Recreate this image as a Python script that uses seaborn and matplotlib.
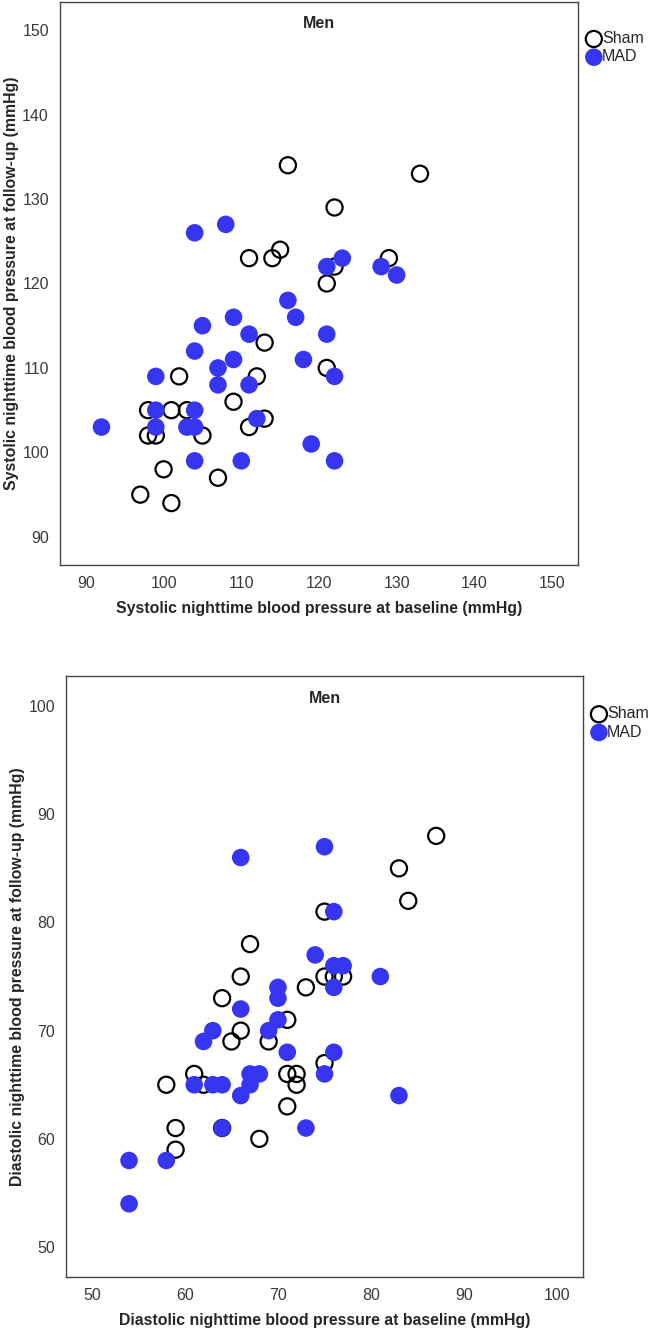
import matplotlib
matplotlib.use("Agg")
import matplotlib.pyplot as plt
import pandas as pd
import seaborn as sns

# systolic nighttime blood pressure (mmHg), men
sys_sham_base = [116, 133, 122, 115, 111, 114, 129, 122, 121, 113, 102, 112, 121,
                 109, 98, 101, 103, 98, 99, 105, 111, 113, 100, 107, 97, 101]
sys_sham_follow = [134, 133, 129, 124, 123, 123, 123, 122, 120, 113, 109, 109, 110,
                   106, 105, 105, 105, 102, 102, 102, 103, 104, 98, 97, 95, 94]
sys_mad_base = [104, 108, 121, 123, 128, 130, 116, 109, 117, 105, 111, 121, 104, 109,
                118, 107, 99, 122, 107, 111, 99, 104, 92, 99, 103, 104, 112, 119,
                104, 110, 122]
sys_mad_follow = [126, 127, 122, 123, 122, 121, 118, 116, 116, 115, 114, 114, 112, 111,
                  111, 110, 109, 109, 108, 108, 105, 105, 103, 103, 103, 103, 104, 101,
                  99, 99, 99]

# diastolic nighttime blood pressure (mmHg), men
dia_sham_base = [87, 83, 84, 75, 67, 66, 75, 76, 77, 73, 64, 71, 66, 65, 69, 75, 61,
                 71, 72, 58, 62, 72, 71, 59, 64, 68, 59]
dia_sham_follow = [88, 85, 82, 81, 78, 75, 75, 75, 75, 74, 73, 71, 70, 69, 69, 67, 66,
                   66, 66, 65, 65, 65, 63, 61, 61, 60, 59]
dia_mad_base = [75, 66, 76, 74, 76, 77, 81, 76, 70, 70, 66, 70, 63, 69, 62, 71, 76,
                67, 68, 75, 61, 63, 64, 67, 66, 83, 64, 73, 54, 58, 54]
dia_mad_follow = [87, 86, 81, 77, 76, 76, 75, 74, 74, 73, 72, 71, 70, 70, 69, 68, 68,
                  66, 66, 66, 65, 65, 65, 65, 64, 64, 61, 61, 58, 58, 54]

groups = ["Sham", "MAD"]
MAD_BLUE = "#3535f2"


def make_df(sham_x, sham_y, mad_x, mad_y):
    return pd.DataFrame({
        "baseline": sham_x + mad_x,
        "followup": sham_y + mad_y,
        "group": ["Sham"] * len(sham_x) + ["MAD"] * len(mad_x),
    })


def draw_panel(ax, df, xlabel, ylabel, lo, hi, ticks):
    sham = df[df["group"] == "Sham"]
    mad = df[df["group"] == "MAD"]
    sns.scatterplot(data=sham, x="baseline", y="followup", ax=ax, s=135,
                    facecolor="none", edgecolor="black", linewidth=1.6, label="Sham")
    sns.scatterplot(data=mad, x="baseline", y="followup", ax=ax, s=160,
                    color=MAD_BLUE, edgecolor="none", linewidth=0, label="MAD")
    pad = (hi - lo) * 0.0555
    ax.set_xlim(lo - pad, hi + pad)
    ax.set_ylim(lo - pad, hi + pad)
    ax.set_xticks(ticks)
    ax.set_yticks(ticks)
    ax.tick_params(axis="both", direction="out", length=5, width=0.8, color="#555555",
                   labelsize=11.5, labelcolor="#3a3a3a", pad=3)
    for sp in ax.spines.values():
        sp.set_visible(True)
        sp.set_color("#444444")
        sp.set_linewidth(1.0)
    ax.set_xlabel(xlabel, fontsize=11.4, fontweight="bold", labelpad=7)
    ax.set_ylabel(ylabel, fontsize=11.4, fontweight="bold", labelpad=2)
    ax.text(0.5, 0.962, "Men", transform=ax.transAxes, ha="center", va="center",
            fontsize=11.5, fontweight="bold")
    ax.legend(loc="upper left", bbox_to_anchor=(0.986, 0.968), frameon=False,
              fontsize=11.5, handletextpad=-0.25, borderaxespad=0.3,
              labelspacing=0.2, handlelength=1.5)


sns.set_style("white")
plt.rcParams["font.family"] = ["Liberation Sans", "DejaVu Sans"]

fig = plt.figure(figsize=(6.49, 13.30), dpi=100)
ax1 = fig.add_axes([0.0925, 0.5752, 0.798, 0.4233])
ax2 = fig.add_axes([0.1017, 0.0398, 0.7966, 0.4519])

sys_df = make_df(sys_sham_base, sys_sham_follow, sys_mad_base, sys_mad_follow)
dia_df = make_df(dia_sham_base, dia_sham_follow, dia_mad_base, dia_mad_follow)

draw_panel(ax1, sys_df,
           "Systolic nighttime blood pressure at baseline (mmHg)",
           "Systolic nighttime blood pressure at follow-up (mmHg)",
           90, 150, [90, 100, 110, 120, 130, 140, 150])
draw_panel(ax2, dia_df,
           "Diastolic nighttime blood pressure at baseline (mmHg)",
           "Diastolic nighttime blood pressure at follow-up (mmHg)",
           50, 100, [50, 60, 70, 80, 90, 100])

fig.savefig("out.png", dpi=100)
plt.close(fig)
